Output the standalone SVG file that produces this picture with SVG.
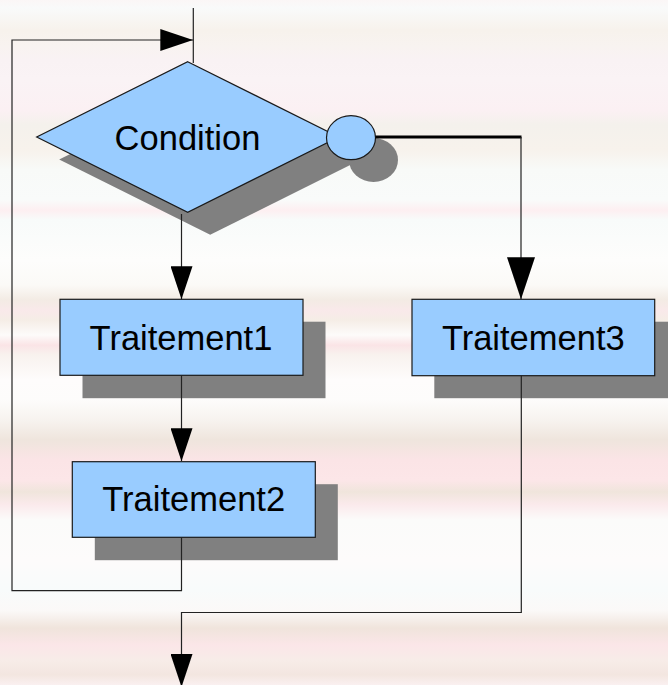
<svg xmlns="http://www.w3.org/2000/svg" width="668" height="685" viewBox="0 0 668 685">
  <style>
    .shadow { fill: #808080; stroke: none; }
    .shape { fill: #99ccff; stroke: #1a1a1a; stroke-width: 1.2; }
    .label { font-family: "Liberation Sans", Arial, sans-serif; font-size: 34.5px; fill: #000; text-anchor: middle; }
    .conn { fill: none; stroke: #222; stroke-width: 1.2; }
    .thick { fill: none; stroke: #000; stroke-width: 3.2; }
  </style>
  <defs>
    <linearGradient id="bg" x1="0" y1="0" x2="0" y2="685" gradientUnits="userSpaceOnUse">
      <stop offset="0" stop-color="#fbf6f6"/>
      <stop offset="0.012" stop-color="#f9fafa"/>
      <stop offset="0.044" stop-color="#f7f2ec"/>
      <stop offset="0.066" stop-color="#f8f3f0"/>
      <stop offset="0.088" stop-color="#f9f2f4"/>
      <stop offset="0.117" stop-color="#faf3f5"/>
      <stop offset="0.161" stop-color="#fbf0f3"/>
      <stop offset="0.182" stop-color="#f4f1ec"/>
      <stop offset="0.219" stop-color="#f7f2ec"/>
      <stop offset="0.248" stop-color="#f8faf8"/>
      <stop offset="0.292" stop-color="#f9fbfa"/>
      <stop offset="0.307" stop-color="#fdeff1"/>
      <stop offset="0.321" stop-color="#f8fbfa"/>
      <stop offset="0.380" stop-color="#fdfdfc"/>
      <stop offset="0.416" stop-color="#fbfaf7"/>
      <stop offset="0.438" stop-color="#f3ebe4"/>
      <stop offset="0.453" stop-color="#f9e9ea"/>
      <stop offset="0.467" stop-color="#f5ede6"/>
      <stop offset="0.489" stop-color="#fdfbfa"/>
      <stop offset="0.504" stop-color="#fae4e6"/>
      <stop offset="0.518" stop-color="#f8f2ee"/>
      <stop offset="0.555" stop-color="#fefcfc"/>
      <stop offset="0.584" stop-color="#fdfcfb"/>
      <stop offset="0.613" stop-color="#f7f3ef"/>
      <stop offset="0.642" stop-color="#efe5dd"/>
      <stop offset="0.672" stop-color="#fbe4e6"/>
      <stop offset="0.701" stop-color="#fce6e8"/>
      <stop offset="0.718" stop-color="#f0e5dc"/>
      <stop offset="0.737" stop-color="#fbeaec"/>
      <stop offset="0.759" stop-color="#fbfbfa"/>
      <stop offset="0.818" stop-color="#fdfbfb"/>
      <stop offset="0.861" stop-color="#f8fbfb"/>
      <stop offset="0.891" stop-color="#fbf9f8"/>
      <stop offset="0.917" stop-color="#f0e4dc"/>
      <stop offset="0.942" stop-color="#fbe6e8"/>
      <stop offset="0.964" stop-color="#f7ece8"/>
      <stop offset="0.985" stop-color="#f3e6e0"/>
      <stop offset="1" stop-color="#faf0f0"/>
    </linearGradient>
    <marker id="arrow" viewBox="0 0 33 22" refX="33" refY="11" markerWidth="33" markerHeight="22" markerUnits="userSpaceOnUse" orient="auto">
      <path d="M0,0 L33,11 L0,22 Z" fill="#000"/>
    </marker>
    <marker id="arrowBig" viewBox="0 0 42 28" refX="42" refY="14" markerWidth="42" markerHeight="28" markerUnits="userSpaceOnUse" orient="auto">
      <path d="M0,0 L42,14 L0,28 Z" fill="#000"/>
    </marker>
  </defs>

  <rect x="0" y="0" width="668" height="685" fill="url(#bg)"/>

  <g id="condition">
    <polygon class="shadow" points="210.2,84.2 361.2,159.5 210.2,234.8 59.2,159.5"/>
    <ellipse class="shadow" cx="373.5" cy="160" rx="24.5" ry="22"/>
    <polygon class="shape" points="187.7,61.7 338.7,137 187.7,212.3 36.7,137"/>
    <text class="label" x="187.5" y="149.5">Condition</text>
  </g>

  <g id="condition-exit">
    <ellipse class="shape" cx="351" cy="137.7" rx="24.5" ry="22"/>
  </g>

  <g id="traitement1">
    <rect class="shadow" x="82.5" y="321.7" width="243" height="76.5"/>
    <rect class="shape" x="60" y="299.3" width="243" height="76"/>
    <text class="label" x="181" y="349.5">Traitement1</text>
  </g>

  <g id="traitement2">
    <rect class="shadow" x="94.8" y="484.2" width="243" height="76"/>
    <rect class="shape" x="72.3" y="461.7" width="243" height="75.6"/>
    <text class="label" x="193.7" y="511">Traitement2</text>
  </g>

  <g id="traitement3">
    <rect class="shadow" x="434.3" y="321.7" width="243" height="76.5"/>
    <rect class="shape" x="412" y="299.3" width="242.7" height="76.4"/>
    <text class="label" x="533.3" y="349.5">Traitement3</text>
  </g>

  <g id="connectors">
    <line class="conn" x1="193.3" y1="8" x2="193.3" y2="63"/>
    <polyline class="conn" points="181.5,537.3 181.5,590.7 12,590.7 12,40 193.3,40" marker-end="url(#arrow)"/>
    <line class="conn" x1="181.5" y1="214" x2="181.5" y2="299.3" marker-end="url(#arrow)"/>
    <line class="conn" x1="181.5" y1="375.3" x2="181.5" y2="461.3" marker-end="url(#arrow)"/>
    <line class="thick" x1="375.5" y1="137" x2="521.5" y2="137"/>
    <line class="conn" x1="521" y1="137" x2="521" y2="299.3" marker-end="url(#arrowBig)"/>
    <polyline class="conn" points="521.3,375.7 521.3,612.5 181.5,612.5 181.5,687" marker-end="url(#arrow)"/>
  </g>
</svg>
